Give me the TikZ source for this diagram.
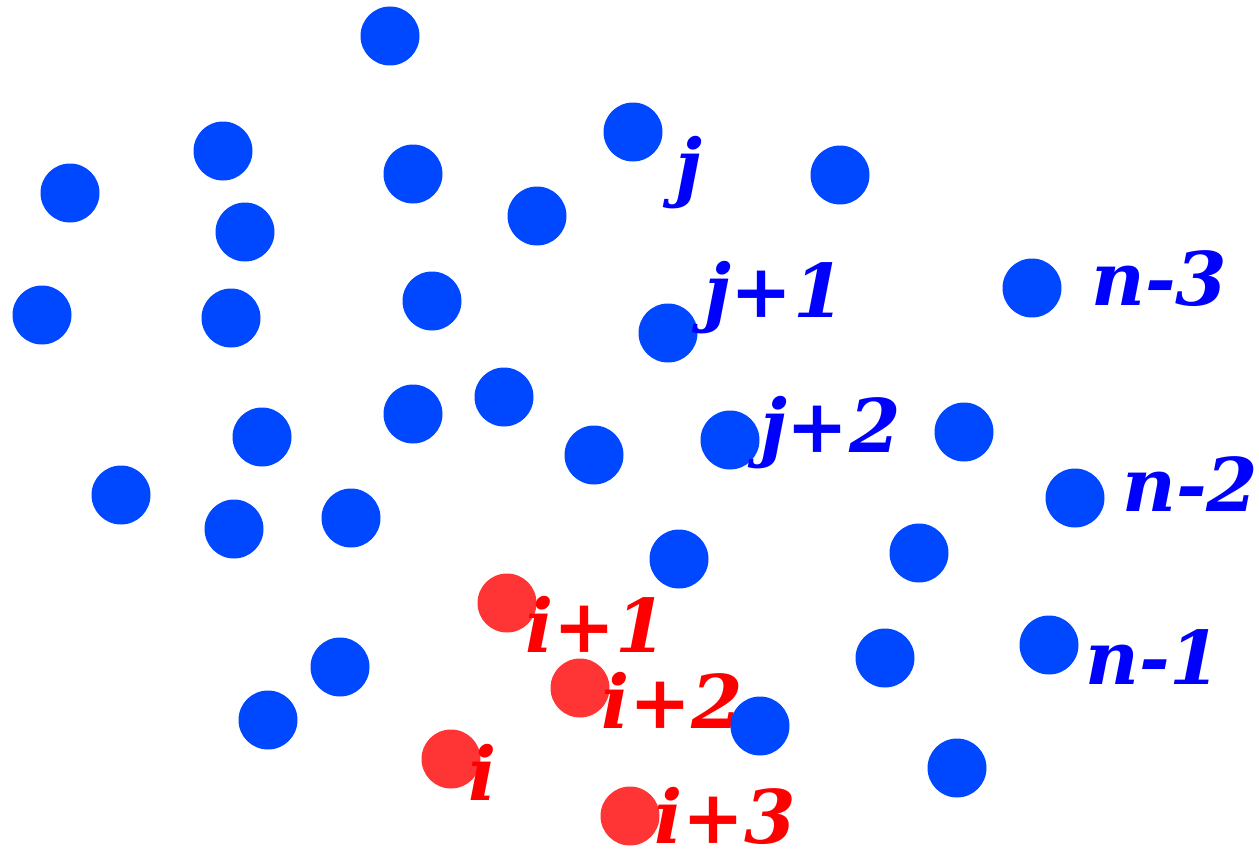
\documentclass[tikz,border=0pt]{standalone}
\usepackage{fontspec}
\setmainfont{DejaVu Serif}
\begin{document}
\begin{tikzpicture}[x=1pt,y=-1pt,
  bdot/.style={circle,fill={rgb,255:red,0;green,72;blue,255},minimum size=59pt,inner sep=0pt},
  rdot/.style={circle,fill={rgb,255:red,255;green,52;blue,52},minimum size=59pt,inner sep=0pt},
  blab/.style={text={rgb,255:red,0;green,0;blue,255},font=\fontsize{74}{80}\selectfont\bfseries\itshape,anchor=base west,inner sep=0pt},
  rlab/.style={text={rgb,255:red,255;green,0;blue,0},font=\fontsize{74}{80}\selectfont\bfseries\itshape,anchor=base west,inner sep=0pt}]
\useasboundingbox (0,0) rectangle (1259,851);
\foreach \x/\y [count=\k] in {390/36,633/132,223/151,413/174,840/175,70/193,537/216,245/232,1032/288,42/315,231/318,432/301,668/333,504/397,413/414,262/437,594/455,730/440,964/432,1075/498,121/495,234/529,351/518,679/559,919/553,885/658,1049/645,340/667,268/720,957/768}
  \node[bdot] (b\k) at (\x,\y) {};
\node[rdot] (r1) at (507,603) {};
\node[rdot] (r2) at (580,688) {};
\node[rdot] (r0) at (451,759) {};
\node[rdot] (r3) at (630,816) {};
\node[blab] (lj) at (675,192) {j};
\node[blab] (lj1) at (704,317) {j+1};
\node[blab] (lj2) at (760,452) {j+2};
\node[blab] (ln3) at (1091,305) {n-3};
\node[blab] (ln2) at (1122,511) {n-2};
\node[blab] (ln1) at (1085,684) {n-1};
\node[rlab] (li1) at (525,652) {i+1};
\node[rlab] (li2) at (601,728) {i+2};
\node[rlab] (li0) at (468,800) {i};
\node[rlab] (li3) at (654,843) {i+3};
\node[bdot] (b31) at (760,726) {};
\end{tikzpicture}
\end{document}
